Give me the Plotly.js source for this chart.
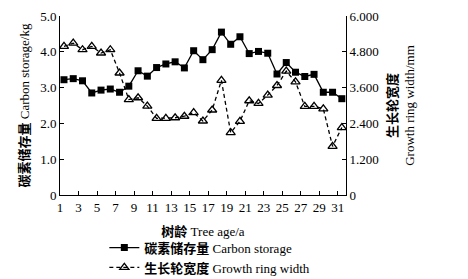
<!DOCTYPE html>
<html>
<head>
<meta charset="utf-8">
<script src="https://cdn.plot.ly/plotly-3.0.1.min.js"></script>
<style>html,body{margin:0;padding:0;background:#fff;}#chart{width:468px;height:279px;}</style>
</head>
<body>
<div id="chart"></div>
<script>
const ages = [1,2,3,4,5,6,7,8,9,10,11,12,13,14,15,16,17,18,19,20,21,22,23,24,25,26,27,28,29,30,31];
const carbonStorage = [3.22,3.25,3.19,2.85,2.93,2.96,2.87,3.04,3.47,3.32,3.56,3.66,3.72,3.55,4.03,3.78,4.06,4.55,4.21,4.42,3.95,4.01,3.96,3.38,3.70,3.43,3.31,3.37,2.87,2.87,2.69];
const ringWidth = [4.98,5.09,4.87,4.98,4.76,4.87,4.09,3.20,3.26,2.98,2.57,2.57,2.59,2.64,2.76,2.48,2.85,3.84,2.09,2.47,3.16,3.07,3.35,3.67,4.15,3.79,2.97,2.97,2.89,1.63,2.26];
const xTickLabels = ['1','3','5','7','9','11','13','15','17','19','21','23','25','27','29','31'];
const leftTickVals = [0,1,2,3,4,5];
const leftTickText = ['0','1.0','2.0','3.0','4.0','5.0'];
const rightTickVals = [0,1.2,2.4,3.6,4.8,6.0];
const rightTickText = ['0','1.200','2.400','3.600','4.800','6.000'];
const seriesNames = ['<b>碳素储存量</b> Carbon storage','<b>生长轮宽度</b> Growth ring width'];

const tickShift = 0.43;
const FONT = 'Liberation Serif, "Noto Sans CJK SC", serif';

const traces = [
  {x: ages, y: carbonStorage, name: seriesNames[0], type: 'scatter', mode: 'lines+markers',
   line: {color: '#000', width: 1.3}, marker: {symbol: 'square', size: 7, color: '#000'}, yaxis: 'y'},
  {x: ages, y: ringWidth, name: seriesNames[1], type: 'scatter', mode: 'lines+markers',
   line: {color: '#000', width: 1.3, dash: '4px,3px'},
   marker: {symbol: 'triangle-up-open', size: 8, color: '#000', line: {width: 1.3, color: '#000'}}, yaxis: 'y2'}
];

const layout = {
  width: 468, height: 279,
  margin: {l: 60, r: 122, t: 16, b: 84, autoexpand: false},
  paper_bgcolor: '#fff', plot_bgcolor: '#fff',
  font: {family: FONT, size: 13, color: '#000'},
  showlegend: true,
  legend: {orientation: 'v', x: 0.155, xanchor: 'left', y: -0.21, yanchor: 'top',
    font: {family: FONT, size: 13, color: '#000'}, tracegroupgap: 0, itemwidth: 30, bgcolor: 'rgba(0,0,0,0)'},
  xaxis: {
    range: [1 - tickShift, 31.45],
    tickvals: xTickLabels.map(v => Number(v) - tickShift), ticktext: xTickLabels,
    ticks: 'inside', ticklen: 4, tickwidth: 1, tickcolor: '#000',
    showline: true, linecolor: '#000', linewidth: 1, showgrid: false, zeroline: false,
    tickfont: {family: FONT, size: 13, color: '#000'},
    title: {text: '<b>树龄</b> Tree age/a', font: {family: FONT, size: 13, color: '#000'}, standoff: 13}
  },
  yaxis: {
    range: [0, 5], tickvals: leftTickVals, ticktext: leftTickText,
    ticks: 'inside', ticklen: 4, tickwidth: 1, tickcolor: '#000',
    showline: true, linecolor: '#000', linewidth: 1, showgrid: false, zeroline: false,
    tickfont: {family: FONT, size: 13, color: '#000'},
    title: {text: '<b>碳素储存量</b> Carbon storage/kg', font: {family: FONT, size: 13, color: '#000'}, standoff: 7}
  },
  yaxis2: {
    range: [0, 6], overlaying: 'y', side: 'right', tickvals: rightTickVals, ticktext: rightTickText,
    ticks: 'inside', ticklen: 4, tickwidth: 1, tickcolor: '#000',
    showline: true, linecolor: '#000', linewidth: 1, showgrid: false, zeroline: false,
    tickfont: {family: FONT, size: 13, color: '#000'},
    title: {text: '<b>生长轮宽度</b><br>Growth ring width/mm', font: {family: FONT, size: 13, color: '#000'}, standoff: 10}
  }
};

Plotly.newPlot('chart', traces, layout, {staticPlot: true, displayModeBar: false});
</script>
</body>
</html>
